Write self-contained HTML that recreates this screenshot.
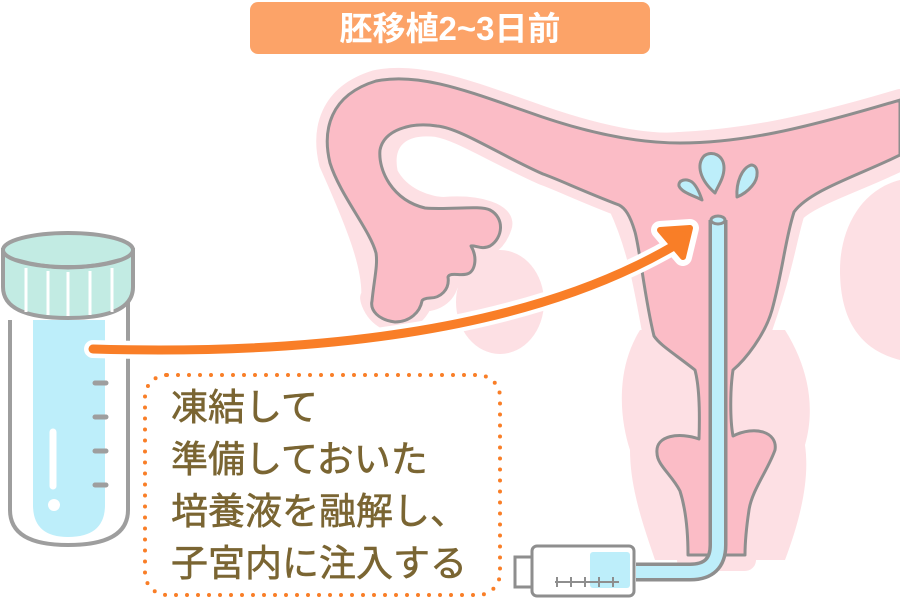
<!DOCTYPE html>
<html><head><meta charset="utf-8"><style>
html,body{margin:0;padding:0;background:#fff;width:900px;height:599px;overflow:hidden}
svg{display:block}
</style></head><body>
<svg width="900" height="599" viewBox="0 0 900 599" xmlns="http://www.w3.org/2000/svg">
<!-- title -->
<rect x="250" y="2" width="400" height="52" rx="8" fill="#fca368"/>
<text x="450" y="40" text-anchor="middle" font-family="'Liberation Sans','Noto Sans CJK JP',sans-serif" font-weight="bold" font-size="33" fill="#fff">胚移植2~3日前</text>

<!-- halo -->
<g fill="#fde0e4" stroke="#fde0e4" stroke-width="22" stroke-linejoin="round">
<path d="M330,163 C322,130 330,95 376,81 C420,72 470,92 528,112 C600,138 650,146 680,143 C740,140 800,130 900,100 L900,160 C860,180 810,195 794,212 C785,240 783,270 756,343 C740,365 733,380 733,436 C760,430 780,440 768,470 C755,490 749,520 745,560 L688,560 C684,520 680,500 668,478 C655,455 660,436 695,440 C699,420 700,380 695,370 C670,350 660,330 654,336 C645,290 640,250 619,205 C580,190 560,180 543,174 C490,150 460,130 437,126 C400,122 380,140 387,174 C400,200 430,208 444,208 C480,205 505,215 501,226 C495,245 480,250 471,250 C470,270 460,280 448,277 C448,290 440,300 422,301 C415,320 395,325 387,319 C370,310 370,290 372,301 C375,270 360,230 330,163 Z"/>
</g>
<ellipse cx="500" cy="302" rx="44" ry="52" fill="#fde0e4"/>
<path d="M900,180 C860,190 840,230 840,270 C840,320 860,350 900,360 Z" fill="#fde0e4"/>
<path d="M640,330 C615,370 620,420 630,450 C630,490 645,530 655,560 L785,560 C800,520 810,480 805,445 C815,410 810,370 785,330 Z" fill="#fde0e4"/>

<!-- uterus main -->
<path d="M330,163 C322,130 330,95 376,81 C420,72 470,92 528,112 C600,138 650,143 680,143 C740,143 800,130 900,100 L900,155 C860,175 810,190 794,212 C785,240 783,270 772,310 C765,335 745,360 733,370 C730,390 730,420 733,436 C755,425 778,432 775,450 C768,470 752,490 749,510 C746,530 745,545 745,555 L688,555 C688,535 686,510 680,491 C672,475 657,465 657,453 C655,435 680,432 699,439 C700,410 699,385 695,370 C672,352 660,345 654,336 C645,300 640,250 635,232 C630,215 625,208 619,205 C580,190 560,180 543,174 C500,155 460,128 437,126 C410,122 384,130 380,150 C378,170 392,200 425,208 C450,210 480,205 490,210 C505,218 503,238 490,246 C482,250 475,245 471,246 C478,258 475,272 467,274 C460,276 450,272 448,277 C450,290 440,298 430,298 C425,298 422,300 422,301 C420,312 410,322 395,322 C378,320 370,310 372,301 C374,280 378,265 376,253 C370,230 340,195 330,163 Z" fill="#fbbcc6" stroke="#8e8e8e" stroke-width="3" stroke-linejoin="round"/>

<!-- drops -->
<g fill="#bdeefa" stroke="#8e8e8e" stroke-width="3" stroke-linejoin="round">
<path d="M715,193 C700,180 696,165 704,156 C712,150 724,155 724,168 C724,178 718,186 715,193 Z"/>
<path d="M737,197 C736,182 742,168 751,165 C759,165 759,178 752,186 C747,192 742,195 737,197 Z"/>
<path d="M702,200 C695,196 682,193 679,186 C678,180 686,178 692,182 C697,186 700,194 702,200 Z"/>
</g>

<!-- catheter -->
<path d="M718,220 L718,545 Q718,572 690,572 L636,572" fill="none" stroke="#8e8e8e" stroke-width="19"/>
<path d="M718,220 L718,545 Q718,572 690,572 L636,572" fill="none" stroke="#bdeefa" stroke-width="12"/>
<ellipse cx="718" cy="220" rx="7" ry="4" fill="#bdeefa" stroke="#8e8e8e" stroke-width="3"/>

<!-- syringe -->
<rect x="515" y="557" width="18" height="30" fill="#fff" stroke="#8e8e8e" stroke-width="3"/>
<rect x="532" y="546" width="102" height="50" rx="5" fill="#fff" stroke="#8e8e8e" stroke-width="3"/>
<rect x="590" y="552" width="40" height="36" rx="3" fill="#bdeefa"/>
<line x1="555" y1="582" x2="619" y2="582" stroke="#8e8e8e" stroke-width="2"/>
<g stroke="#8e8e8e" stroke-width="2"><line x1="557" y1="577" x2="557" y2="587"/><line x1="571" y1="577" x2="571" y2="587"/><line x1="585" y1="577" x2="585" y2="587"/><line x1="599" y1="577" x2="599" y2="587"/><line x1="613" y1="577" x2="613" y2="587"/></g>

<!-- tube -->
<path d="M10,320 L10,510 Q10,545 68,545 Q128,545 128,510 L128,300" fill="none" stroke="#9e9e9e" stroke-width="4"/>
<path d="M33,320 L33,505 Q33,537 68,537 Q105,537 105,505 L105,320 Z" fill="#bdeefa"/>
<g stroke="#9e9e9e" stroke-width="5" stroke-linecap="round"><line x1="95" y1="383" x2="106" y2="383"/><line x1="95" y1="417" x2="106" y2="417"/><line x1="95" y1="451" x2="106" y2="451"/><line x1="95" y1="485" x2="106" y2="485"/></g>
<line x1="53" y1="432" x2="53" y2="486" stroke="#fff" stroke-width="7" stroke-linecap="round"/>
<circle cx="54" cy="505" r="6" fill="#fff"/>
<!-- cap -->
<path d="M3,250 L3,287 Q3,318 68,318 Q133,318 133,287 L133,250 Z" fill="#c2ebe3" stroke="#9e9e9e" stroke-width="4"/>
<ellipse cx="68" cy="250" rx="65" ry="17" fill="#c2ebe3" stroke="#9e9e9e" stroke-width="4"/>
<path d="M16,260 Q68,275 120,260" fill="none" stroke="#9e9e9e" stroke-width="4"/>
<g stroke="#fff" stroke-width="3"><line x1="26" y1="268" x2="26" y2="312"/><line x1="48" y1="271" x2="48" y2="315"/><line x1="68" y1="272" x2="68" y2="316"/><line x1="90" y1="271" x2="90" y2="315"/><line x1="112" y1="268" x2="112" y2="312"/></g>

<!-- arrow -->
<g stroke="#fff" stroke-width="18" fill="#fff" stroke-linecap="round" stroke-linejoin="round">
<path d="M93,349 C300,355 520,335 675,245" fill="none"/>
<path d="M660,230 L690,228 L683,257 Z"/>
</g>
<g stroke="#f97e27" fill="#f97e27" stroke-linecap="round" stroke-linejoin="round">
<path d="M93,349 C300,355 520,335 672,247" fill="none" stroke-width="9"/>
<path d="M660,230 L690,228 L683,257 Z" stroke-width="6"/>
</g>

<!-- dotted box -->
<rect x="145" y="375" width="355" height="220" rx="22" fill="none" stroke="#f97e27" stroke-width="4" stroke-dasharray="0 11" stroke-linecap="round"/>
<g font-family="'Liberation Sans','Noto Sans CJK JP',sans-serif" font-size="37" fill="#7a6532" stroke="#7a6532" stroke-width="0.6">
<text x="171" y="420">凍結して</text>
<text x="171" y="472">準備しておいた</text>
<text x="171" y="524">培養液を融解し、</text>
<text x="171" y="576">子宮内に注入する</text>
</g>
</svg>
</body></html>
